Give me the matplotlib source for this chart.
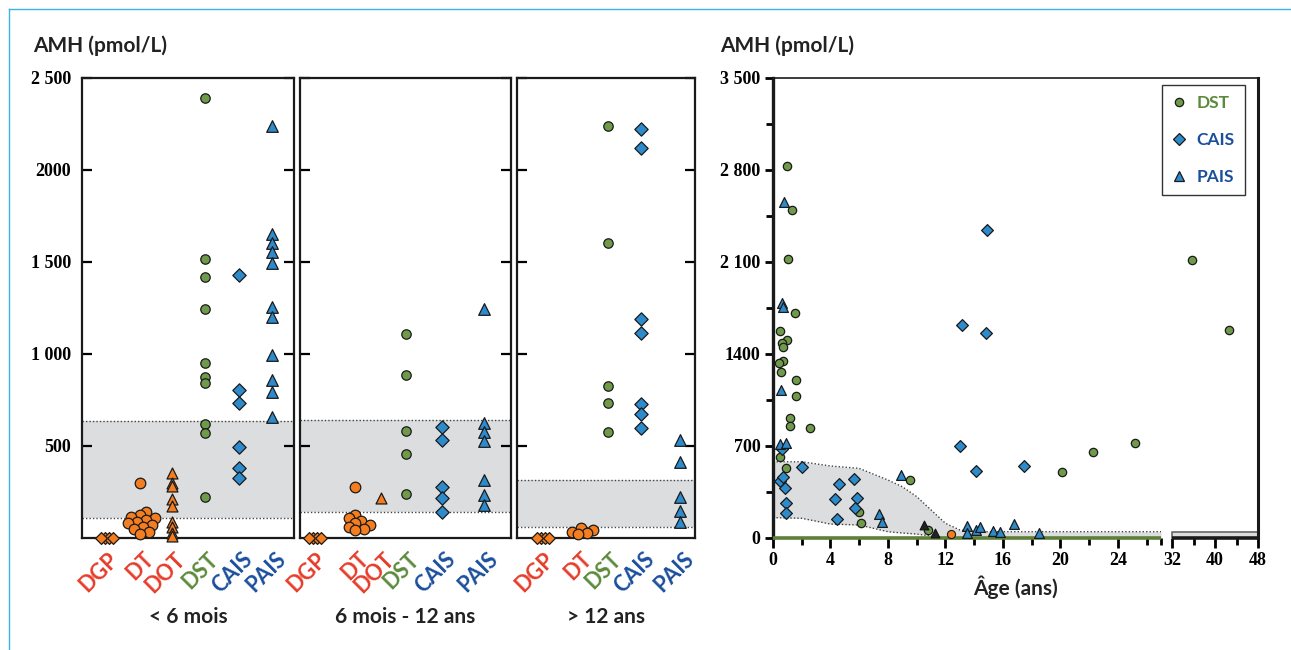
import numpy as np
import matplotlib
matplotlib.use("Agg")
import matplotlib.pyplot as plt
from matplotlib.lines import Line2D
from matplotlib.scale import FuncScale

# ---------------- data : left panels (AMH pmol/L by diagnosis and age group) -------------
groups = ["< 6 mois", "6 mois - 12 ans", "> 12 ans"]
cats_lt6 = ["DGP", "DT", "DOT", "DST", "CAIS", "PAIS"]
cats_mid = ["DGP", "DT", "DOT", "DST", "CAIS", "PAIS"]
cats_gt12 = ["DGP", "DT", "DST", "CAIS", "PAIS"]

lt6_DGP = [0, 0, 0, 0]
lt6_DT = [300, 143, 125, 116, 107, 98, 88, 80, 71, 60, 50, 34, 22]
lt6_DOT = [355, 297, 283, 212, 175, 89, 61, 29, 12]
lt6_DST = [2390, 1515, 1417, 1245, 949, 877, 841, 618, 572, 221]
lt6_CAIS = [1429, 804, 735, 496, 379, 324]
lt6_PAIS = [2240, 1652, 1601, 1553, 1493, 1254, 1203, 995, 859, 792, 659]

mid_DGP = [0, 0, 0, 0]
mid_DT = [279, 125, 107, 95, 80, 70, 61, 50, 43]
mid_DOT = [216]
mid_DST = [1110, 885, 582, 455, 239]
mid_CAIS = [601, 533, 276, 216, 141]
mid_PAIS = [1242, 623, 578, 527, 315, 234, 179]

gt12_DGP = [0, 0, 0, 0]
gt12_DT = [55, 45, 35, 25, 20]
gt12_DST = [2239, 1605, 824, 735, 574]
gt12_CAIS = [2223, 2121, 1188, 1116, 728, 674, 600]
gt12_PAIS = [533, 415, 225, 148, 89]

# normal ranges (low, high) for each age group
range_lt6 = [107, 634]
range_mid = [143, 640]
range_gt12 = [58, 313]

left_ticks = [500, 1000, 1500, 2000, 2500]
left_ticklabels = ["500", "1 000", "1 500", "2000", "2 500"]

# ---------------- data : right panel (AMH vs age) ----------------
dst_age = [0.95, 1.3, 1.02, 1.51, 0.49, 1.0, 0.6, 0.67, 0.72, 0.42, 0.54, 1.62, 1.6,
           1.2, 1.2, 2.6, 0.49, 0.88, 9.53, 5.98, 6.1, 10.8, 20.1, 22.3, 25.2, 35.7, 42.6]
dst_amh = [2833, 2496, 2123, 1715, 1575, 1504, 1482, 1456, 1347, 1334, 1261, 1202, 1083,
           916, 855, 839, 614, 535, 441, 195, 112, 61, 505, 657, 721, 2116, 1583]

cais_age = [13.0, 0.65, 2.0, 14.1, 17.5, 0.49, 0.67, 0.84, 4.57, 5.62, 4.31, 5.82,
            0.88, 5.7, 0.9, 4.47, 13.15, 14.8, 14.9]
cais_amh = [703, 677, 543, 510, 548, 436, 462, 383, 413, 449, 297, 302,
            269, 226, 188, 145, 1621, 1560, 2344]

pais_age = [0.77, 0.6, 0.67, 0.54, 0.49, 0.9, 8.9, 7.4, 7.6, 13.5, 13.5, 14.1, 14.4,
            15.3, 15.8, 16.8, 18.5]
pais_amh = [2560, 1786, 1756, 1126, 713, 720, 479, 180, 124, 91, 40, 61, 86,
            56, 43, 104, 36]

other_tri_age = [10.5, 11.3]
other_tri_amh = [99, 36]
other_circ_age = [12.4]
other_circ_amh = [28]

band_age = [0, 2, 4, 6, 8, 9, 10, 11, 12, 13, 14, 27]
band_low = [155, 150, 106, 99, 48, 38, 30, 15, 0, 0, 0, 0]
band_high = [580, 580, 548, 530, 441, 390, 315, 213, 112, 61, 48, 48]
band2_age = [32, 48]
band2_high = [48, 48]

right_yticks = [0, 700, 1400, 2100, 2800, 3500]
right_yticklabels = ["0", "700", "1400", "2 100", "2 800", "3 500"]
right_xticks = [0, 4, 8, 12, 16, 20, 24, 32, 40, 48]

# ---------------- style ----------------
W, H = 1291, 650
fig = plt.figure(figsize=(W / 100, H / 100), dpi=100)

C_OR = "#F47D20"
C_GR = "#6F9A4A"
C_BL = "#2E8BCB"
T_RED = "#E63C2A"
T_GRN = "#5B8A3A"
T_BLU = "#1B4F9C"
BAND = "#DCDDDF"
SANS = ["Lato", "DejaVu Sans"]
SERIF = ["Liberation Serif", "DejaVu Serif"]

cat_style = {
    "DGP": dict(marker="D", color=C_OR, tcol=T_RED, s=36, step=4.2, mind=4.2),
    "DT": dict(marker="o", color=C_OR, tcol=T_RED, s=58, step=3.0, mind=6.5),
    "DOT": dict(marker="^", color=C_OR, tcol=T_RED, s=62, step=3.0, mind=2.0),
    "DST": dict(marker="o", color=C_GR, tcol=T_GRN, s=46, step=3.0, mind=3.0),
    "CAIS": dict(marker="D", color=C_BL, tcol=T_BLU, s=46, step=3.0, mind=3.0),
    "PAIS": dict(marker="^", color=C_BL, tcol=T_BLU, s=70, step=3.0, mind=3.0),
}


def fig_rect(x0, y0, x1, y1):
    return [x0 / W, 1 - y1 / H, (x1 - x0) / W, (y1 - y0) / H]


def swarm(values, center, width_px, height_px, ymax, step, mind):
    v = np.asarray(values, float)
    ypx = v * height_px / ymax
    order = np.argsort(ypx)
    placed = []
    offs = np.zeros(len(v))
    for i in order:
        for k in [0, 1, -1, 2, -2, 3, -3, 4, -4, 5, -5, 6, -6]:
            xo = k * step
            if all(np.hypot(xo - px, ypx[i] - py) >= mind - 1e-9 for px, py in placed):
                break
        offs[i] = xo
        placed.append((xo, ypx[i]))
    return center + offs / width_px


panels = [
    dict(rect=(82, 78, 294, 538), cats=cats_lt6,
         data=[lt6_DGP, lt6_DT, lt6_DOT, lt6_DST, lt6_CAIS, lt6_PAIS],
         pos=[0.108, 0.274, 0.425, 0.580, 0.740, 0.896], rng=range_lt6),
    dict(rect=(300, 78, 511, 538), cats=cats_mid,
         data=[mid_DGP, mid_DT, mid_DOT, mid_DST, mid_CAIS, mid_PAIS],
         pos=[0.062, 0.261, 0.384, 0.502, 0.673, 0.872], rng=range_mid),
    dict(rect=(517, 78, 695, 538), cats=cats_gt12,
         data=[gt12_DGP, gt12_DT, gt12_DST, gt12_CAIS, gt12_PAIS],
         pos=[0.135, 0.343, 0.511, 0.697, 0.916], rng=range_gt12),
]

YMAX_L = 2500
for pi, p in enumerate(panels):
    x0, y0, x1, y1 = p["rect"]
    ax = fig.add_axes(fig_rect(x0, y0, x1, y1))
    ax.set_xlim(0, 1)
    ax.set_ylim(0, YMAX_L)
    wpx, hpx = x1 - x0, y1 - y0
    lo, hi = p["rng"]
    ax.axhspan(lo, hi, color=BAND, lw=0, zorder=0)
    for yv in (lo, hi):
        ax.axhline(yv, color="#444444", lw=1.0, ls=(0, (1, 1.5)), zorder=1)
    for cat, vals, cx in zip(p["cats"], p["data"], p["pos"]):
        st = cat_style[cat]
        xs = swarm(vals, cx, wpx, hpx, YMAX_L, st["step"], st["mind"])
        ax.scatter(xs, vals, marker=st["marker"], s=st["s"], c=st["color"],
                   edgecolors="#1a1a1a", linewidths=0.9, zorder=5, clip_on=False)
        ax.text(cx + 10 / wpx, -18 / hpx, cat, transform=ax.transAxes, rotation=45,
                rotation_mode="anchor", ha="right", va="center", color=st["tcol"],
                fontsize=15.5, fontweight="bold", family=SANS)
    for sp in ax.spines.values():
        sp.set_linewidth(1.6)
        sp.set_color("#1a1a1a")
    ax.set_xticks([])
    ax.set_yticks(left_ticks)
    ax.tick_params(axis="y", direction="in", length=7, width=1.6, left=True, right=True,
                   labelleft=(pi == 0), labelright=False, pad=8)
    if pi == 0:
        ax.set_yticklabels(left_ticklabels, fontsize=13, fontweight="bold", family=SERIF)
    fig.text((x0 + x1) / 2 / W, 1 - 617 / H, groups[pi], ha="center", va="center",
             fontsize=15, fontweight="bold", family=SANS, color="#222222")

fig.text(33 / W, 1 - 46 / H, "AMH (pmol/L)", ha="left", va="center", fontsize=15,
         fontweight="bold", family=SANS, color="#222222")

# ---------------- right panel ----------------
age_knots = np.array([0.0, 27.0, 32.0, 48.0])
px_knots = np.array([0.0, 388.0, 399.0, 485.0])


def _pw(x, xp, fp):
    x = np.asarray(x, float)
    y = np.interp(x, xp, fp)
    y = np.where(x < xp[0], fp[0] + (x - xp[0]) * (fp[1] - fp[0]) / (xp[1] - xp[0]), y)
    y = np.where(x > xp[-1], fp[-1] + (x - xp[-1]) * (fp[-1] - fp[-2]) / (xp[-1] - xp[-2]), y)
    return y


axr = fig.add_axes(fig_rect(773, 78, 1258, 538))
axr.set_xscale(FuncScale(axr, (lambda a: _pw(a, age_knots, px_knots),
                                lambda v: _pw(v, px_knots, age_knots))))
axr.set_xlim(0, 48)
axr.set_ylim(0, 3500)

axr.fill_between(band_age, band_low, band_high, color=BAND, lw=0, zorder=0)
axr.plot(band_age, band_high, color="#444444", lw=1.0, ls=(0, (1, 1.5)), zorder=1)
axr.plot(band_age, band_low, color="#444444", lw=1.0, ls=(0, (1, 1.5)), zorder=1)
axr.fill_between(band2_age, 0, band2_high, color=BAND, lw=0, zorder=0)
axr.plot([band2_age[0], band2_age[0], band2_age[1]], [0, band2_high[0], band2_high[1]],
         color="#666666", lw=1.2, zorder=1)

axr.scatter(dst_age, dst_amh, marker="o", s=36, c=C_GR, edgecolors="#1a1a1a",
            linewidths=0.9, zorder=5, clip_on=False)
axr.scatter(cais_age, cais_amh, marker="D", s=36, c=C_BL, edgecolors="#1a1a1a",
            linewidths=0.9, zorder=5, clip_on=False)
axr.scatter(pais_age, pais_amh, marker="^", s=50, c=C_BL, edgecolors="#1a1a1a",
            linewidths=0.9, zorder=5, clip_on=False)
axr.scatter(other_tri_age, other_tri_amh, marker="^", s=40, c="#222222",
            edgecolors="#111111", linewidths=0.8, zorder=5, clip_on=False)
axr.scatter(other_circ_age, other_circ_amh, marker="o", s=34, c=C_OR,
            edgecolors="#1a1a1a", linewidths=0.8, zorder=5, clip_on=False)

axr.spines["bottom"].set_visible(False)
axr.spines["left"].set_linewidth(2.4)
axr.spines["right"].set_linewidth(2.2)
axr.spines["top"].set_linewidth(1.2)
for sp in axr.spines.values():
    sp.set_color("#1a1a1a")
xt = axr.get_xaxis_transform()
axr.plot([0, 27], [0, 0], color="#5E7F38", lw=2.6, transform=xt, clip_on=False,
         zorder=4, solid_capstyle="butt")
axr.plot([32, 48], [0, 0], color="#1a1a1a", lw=2.6, transform=xt, clip_on=False,
         zorder=4, solid_capstyle="butt")

axr.set_yticks(right_yticks)
axr.set_yticklabels(right_yticklabels, fontsize=13, fontweight="bold", family=SERIF)
axr.set_yticks(np.arange(350, 3500, 700), minor=True)
axr.tick_params(axis="y", which="major", direction="out", length=6, width=2.0, pad=3)
axr.tick_params(axis="y", which="minor", direction="out", length=5, width=2.0)
axr.set_xticks(right_xticks)
axr.set_xticklabels([str(t) for t in right_xticks], fontsize=13, fontweight="bold",
                    family=SERIF)
axr.set_xticks([2, 6, 10, 14, 18, 22, 26, 27, 36, 44], minor=True)
axr.tick_params(axis="x", which="major", direction="out", length=7, width=2.0, pad=3)
axr.tick_params(axis="x", which="minor", direction="out", length=5, width=2.0)
axr.set_xlabel("Âge (ans)", fontsize=15, fontweight="bold", family=SANS,
               color="#222222", labelpad=5)

handles = [
    Line2D([], [], ls="none", marker="o", ms=6, mfc=C_GR, mec="#1a1a1a", mew=0.9),
    Line2D([], [], ls="none", marker="D", ms=6, mfc=C_BL, mec="#1a1a1a", mew=0.9),
    Line2D([], [], ls="none", marker="^", ms=7, mfc=C_BL, mec="#1a1a1a", mew=0.9),
]
leg = axr.legend(handles, ["DST", "CAIS", "PAIS"], loc="upper right",
                 bbox_to_anchor=(1 - 13 / 485, 1 - 7 / 460), borderaxespad=0,
                 frameon=True, fancybox=False, edgecolor="#333333", framealpha=1,
                 prop=dict(family=SANS, weight="bold", size=12.5),
                 labelspacing=1.2, handletextpad=0.6, handlelength=0.8,
                 borderpad=0.6)
leg.get_frame().set_linewidth(1.0)
for txt, col in zip(leg.get_texts(), [T_GRN, T_BLU, T_BLU]):
    txt.set_color(col)

fig.text(720 / W, 1 - 46 / H, "AMH (pmol/L)", ha="left", va="center", fontsize=15,
         fontweight="bold", family=SANS, color="#222222")

# cyan frame lines
fig.add_artist(Line2D([9 / W, 9 / W], [0, 1 - 9 / H], color="#3BB4E5", lw=1.0))
fig.add_artist(Line2D([9 / W, 1], [1 - 9 / H, 1 - 9 / H], color="#3BB4E5", lw=1.0))

fig.savefig("out.png", dpi=100)
